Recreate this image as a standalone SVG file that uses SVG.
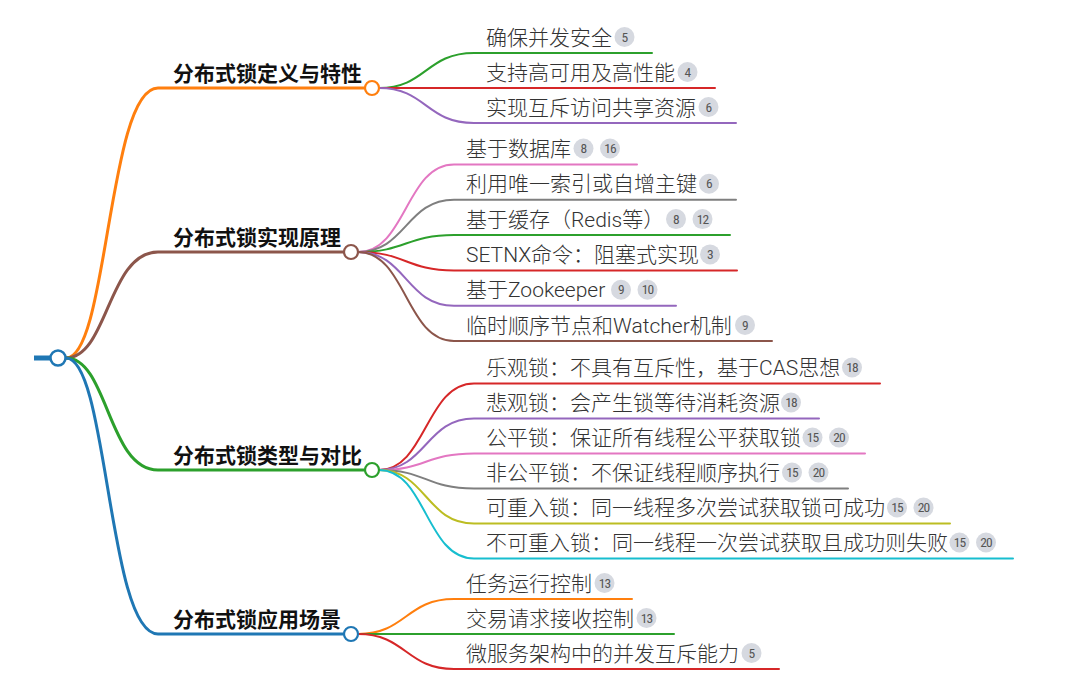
<svg xmlns="http://www.w3.org/2000/svg" width="1080" height="678" viewBox="0 0 1080 678">
<style>
.bt{font-family:Roboto,"Noto Sans CJK SC",sans-serif;font-size:21px;font-weight:bold;fill:#111;stroke:#fff;stroke-width:3px;paint-order:stroke;stroke-linejoin:round}
.lt{font-family:Roboto,"Noto Sans CJK SC",sans-serif;font-size:21px;font-weight:300;fill:#333}
.bc{fill:#fff;stroke-width:2.2}
.bd circle{fill:#d6d9e0}
.bd text{font-family:"Liberation Sans Narrow","Roboto Condensed",Roboto,sans-serif;font-size:13.5px;fill:#555;text-anchor:middle;letter-spacing:-0.8px}
.bl{fill:none;stroke-width:3;stroke-linecap:round}
.ll{fill:none;stroke-width:2;stroke-linecap:round}
</style>
<rect width="1080" height="678" fill="#fff"/>
<g id="connectors">
<path class="bl" stroke="#ff7f0e" d="M66,358 C108,358 108,88 158,88 L365,88"/>
<path class="bl" stroke="#8c564b" d="M66,358 C108,358 108,252 158,252 L344,252"/>
<path class="bl" stroke="#2ca02c" d="M66,358 C108,358 108,470 158,470 L365,470"/>
<path class="bl" stroke="#1f77b4" d="M66,358 C108,358 108,634 158,634 L344,634"/>
<path class="ll" stroke="#2ca02c" d="M379,88 C426,88 426,53 474,53 L652,53"/>
<path class="ll" stroke="#d62728" d="M379,88 L715,88"/>
<path class="ll" stroke="#9467bd" d="M379,88 C426,88 426,123 474,123 L736,123"/>
<path class="ll" stroke="#e377c2" d="M358,252 C406,252 406,164.5 454,164.5 L637,164.5"/>
<path class="ll" stroke="#7f7f7f" d="M358,252 C406,252 406,199.8 454,199.8 L736,199.8"/>
<path class="ll" stroke="#2ca02c" d="M358,252 C406,252 406,235.1 454,235.1 L730,235.1"/>
<path class="ll" stroke="#d62728" d="M358,252 C406,252 406,270.4 454,270.4 L737,270.4"/>
<path class="ll" stroke="#9467bd" d="M358,252 C406,252 406,305.7 454,305.7 L676,305.7"/>
<path class="ll" stroke="#8c564b" d="M358,252 C406,252 406,341 454,341 L772,341"/>
<path class="ll" stroke="#d62728" d="M379,470 C426,470 426,383.5 474,383.5 L880,383.5"/>
<path class="ll" stroke="#9467bd" d="M379,470 C426,470 426,418.5 474,418.5 L819,418.5"/>
<path class="ll" stroke="#e377c2" d="M379,470 C426,470 426,453.5 474,453.5 L865,453.5"/>
<path class="ll" stroke="#7f7f7f" d="M379,470 C426,470 426,488.5 474,488.5 L848,488.5"/>
<path class="ll" stroke="#bcbd22" d="M379,470 C426,470 426,523.5 474,523.5 L950,523.5"/>
<path class="ll" stroke="#17becf" d="M379,470 C426,470 426,558.5 474,558.5 L1013,558.5"/>
<path class="ll" stroke="#ff7f0e" d="M358,634 C406,634 406,599 454,599 L632,599"/>
<path class="ll" stroke="#2ca02c" d="M358,634 L674,634"/>
<path class="ll" stroke="#d62728" d="M358,634 C406,634 406,669 454,669 L779,669"/>
</g>
<g id="root">
<line x1="34" y1="358" x2="50" y2="358" stroke="#1f77b4" stroke-width="5"/>
<circle cx="58" cy="358" r="7.5" fill="#fff" stroke="#1f77b4" stroke-width="2.5"/>
</g>
<g id="b1">
<text class="bt" x="173" y="81">分布式锁定义与特性</text>
<circle class="bc" cx="372" cy="88" r="7" stroke="#ff7f0e"/>
</g>
<g id="b2">
<text class="bt" x="173" y="245">分布式锁实现原理</text>
<circle class="bc" cx="351" cy="252" r="7" stroke="#8c564b"/>
</g>
<g id="b3">
<text class="bt" x="173" y="463">分布式锁类型与对比</text>
<circle class="bc" cx="372" cy="470" r="7" stroke="#2ca02c"/>
</g>
<g id="b4">
<text class="bt" x="173" y="627">分布式锁应用场景</text>
<circle class="bc" cx="351" cy="634" r="7" stroke="#1f77b4"/>
</g>
<g id="l1-1"><text class="lt" x="486" y="44.5">确保并发安全</text><g class="bd"><circle cx="624.5" cy="37" r="10"/><text x="624.5" y="41.5">5</text></g></g>
<g id="l1-2"><text class="lt" x="486" y="79.5">支持高可用及高性能</text><g class="bd"><circle cx="687.5" cy="72" r="10"/><text x="687.5" y="76.5">4</text></g></g>
<g id="l1-3"><text class="lt" x="486" y="114.5">实现互斥访问共享资源</text><g class="bd"><circle cx="708.5" cy="107" r="10"/><text x="708.5" y="111.5">6</text></g></g>
<g id="l2-1"><text class="lt" x="466" y="156">基于数据库</text><g class="bd"><circle cx="583.5" cy="148.5" r="10"/><text x="583.5" y="153">8</text><circle cx="610" cy="148.5" r="10"/><text x="610" y="153">16</text></g></g>
<g id="l2-2"><text class="lt" x="466" y="191.3">利用唯一索引或自增主键</text><g class="bd"><circle cx="709" cy="183.8" r="10"/><text x="709" y="188.3">6</text></g></g>
<g id="l2-3"><text class="lt" x="466" y="226.6">基于缓存（Redis等）</text><g class="bd"><circle cx="676" cy="219.1" r="10"/><text x="676" y="223.6">8</text><circle cx="702.5" cy="219.1" r="10"/><text x="702.5" y="223.6">12</text></g></g>
<g id="l2-4"><text class="lt" x="466" y="261.9">SETNX命令：阻塞式实现</text><g class="bd"><circle cx="710" cy="254.4" r="10"/><text x="710" y="258.9">3</text></g></g>
<g id="l2-5"><text class="lt" x="466" y="297.2">基于Zookeeper</text><g class="bd"><circle cx="621" cy="289.7" r="10"/><text x="621" y="294.2">9</text><circle cx="647.5" cy="289.7" r="10"/><text x="647.5" y="294.2">10</text></g></g>
<g id="l2-6"><text class="lt" x="466" y="332.5">临时顺序节点和Watcher机制</text><g class="bd"><circle cx="745" cy="325" r="10"/><text x="745" y="329.5">9</text></g></g>
<g id="l3-1"><text class="lt" x="486" y="375">乐观锁：不具有互斥性，基于CAS思想</text><g class="bd"><circle cx="852" cy="367.5" r="10"/><text x="852" y="372">18</text></g></g>
<g id="l3-2"><text class="lt" x="486" y="410">悲观锁：会产生锁等待消耗资源</text><g class="bd"><circle cx="791" cy="402.5" r="10"/><text x="791" y="407">18</text></g></g>
<g id="l3-3"><text class="lt" x="486" y="445">公平锁：保证所有线程公平获取锁</text><g class="bd"><circle cx="812.5" cy="437.5" r="10"/><text x="812.5" y="442">15</text><circle cx="839" cy="437.5" r="10"/><text x="839" y="442">20</text></g></g>
<g id="l3-4"><text class="lt" x="486" y="480">非公平锁：不保证线程顺序执行</text><g class="bd"><circle cx="792" cy="472.5" r="10"/><text x="792" y="477">15</text><circle cx="818.5" cy="472.5" r="10"/><text x="818.5" y="477">20</text></g></g>
<g id="l3-5"><text class="lt" x="486" y="515">可重入锁：同一线程多次尝试获取锁可成功</text><g class="bd"><circle cx="897" cy="507.5" r="10"/><text x="897" y="512">15</text><circle cx="923.5" cy="507.5" r="10"/><text x="923.5" y="512">20</text></g></g>
<g id="l3-6"><text class="lt" x="486" y="550">不可重入锁：同一线程一次尝试获取且成功则失败</text><g class="bd"><circle cx="959.5" cy="542.5" r="10"/><text x="959.5" y="547">15</text><circle cx="986" cy="542.5" r="10"/><text x="986" y="547">20</text></g></g>
<g id="l4-1"><text class="lt" x="466" y="590.5">任务运行控制</text><g class="bd"><circle cx="604.5" cy="583" r="10"/><text x="604.5" y="587.5">13</text></g></g>
<g id="l4-2"><text class="lt" x="466" y="625.5">交易请求接收控制</text><g class="bd"><circle cx="646.5" cy="618" r="10"/><text x="646.5" y="622.5">13</text></g></g>
<g id="l4-3"><text class="lt" x="466" y="660.5">微服务架构中的并发互斥能力</text><g class="bd"><circle cx="751.5" cy="653" r="10"/><text x="751.5" y="657.5">5</text></g></g>
</svg>
